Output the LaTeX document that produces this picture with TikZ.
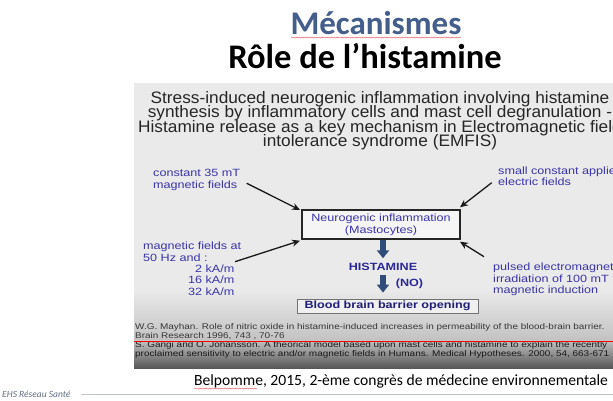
\documentclass[tikz,border=0pt]{standalone}
\usepackage{fontspec}
\setmainfont{Carlito}
\newfontfamily\hdfont[FakeStretch=1.04]{Liberation Sans}
\newfontfamily\dgfont[FakeStretch=1.2]{Liberation Sans}
\usetikzlibrary{arrows.meta,decorations.pathmorphing}
\definecolor{titleblue}{RGB}{68,94,140}
\definecolor{panelgray}{RGB}{234,234,234}
\definecolor{labelblue}{RGB}{58,52,168}
\definecolor{histblue}{RGB}{42,40,150}
\definecolor{bbbblue}{RGB}{32,30,118}
\definecolor{fatblue}{RGB}{48,76,120}
\definecolor{footgray}{RGB}{100,112,130}
\definecolor{footline}{RGB}{190,198,208}
\definecolor{squiggle}{RGB}{230,110,120}
\tikzset{
  dglabel/.style={inner sep=0pt, text=labelblue, align=left,
    font=\dgfont\fontsize{10.5}{11.6}\selectfont},
  hdline/.style={inner sep=0pt, anchor=base, text=black!85,
    font=\hdfont\fontsize{16.6}{14.5}\selectfont},
  thinarrow/.style={draw=black!90, line width=1.3pt,
    -{Stealth[length=8pt,width=7pt]}},
  fatarrow/.style={draw=fatblue, line width=6.5pt,
    -{Triangle[length=8pt,width=12pt]}},
  refline/.style={inner sep=0pt, anchor=base west,
    font=\dgfont\fontsize{8.3}{9}\selectfont},
  spell/.style={draw=squiggle, line width=0.5pt, decorate,
    decoration={snake, amplitude=0.6pt, segment length=2.5pt}}
}
\begin{document}
\begin{tikzpicture}[x=1pt,y=-1pt]
\useasboundingbox (0,0) rectangle (613,400);
\clip (0,0) rectangle (613,400);
\fill[white] (0,0) rectangle (613,400);

% titles
\node[inner sep=0pt, anchor=base, text=titleblue,
  font=\bfseries\fontsize{33}{36}\selectfont] (t1) at (376,34) {Mécanismes};
\draw[spell] (291,37.5) -- (461,37.5);
\node[inner sep=0pt, anchor=base, text=black,
  font=\bfseries\fontsize{34.5}{38}\selectfont] (t2) at (365,68) {Rôle de l’histamine};

% panel
\fill[panelgray] (134,83) rectangle (613,368);
\shade[top color=panelgray, bottom color=black!24] (134,290) rectangle (613,341);
\shade[top color=black!24, bottom color=black!66] (134,340.5) rectangle (613,368);

% header
\node[hdline] (h1) at (380,103) {Stress-induced neurogenic inflammation involving histamine};
\node[hdline] (h2) at (380,117.5) {synthesis by inflammatory cells and mast cell degranulation -};
\node[hdline] (h3) at (380,132) {Histamine release as a key mechanism in Electromagnetic field};
\node[hdline] (h4) at (380,146.5) {intolerance syndrome (EMFIS)};

% central boxes
\node[draw=black!85, line width=1.5pt, fill=black!4, minimum width=158pt,
  minimum height=29pt, inner sep=0pt, align=center, text=labelblue,
  font=\dgfont\fontsize{10.5}{12}\selectfont] (neuro) at (381,224.5)
  {Neurogenic inflammation\\(Mastocytes)};
\node[inner sep=0pt, anchor=base, text=histblue,
  font=\dgfont\bfseries\fontsize{10.5}{12}\selectfont] (hist) at (383,270.8) {HISTAMINE};
\node[inner sep=0pt, anchor=base, text=histblue,
  font=\dgfont\bfseries\fontsize{10.5}{12}\selectfont] (no) at (409.5,286.8) {(NO)};
\node[draw=black!55, line width=0.8pt, fill=black!6, minimum width=181pt,
  minimum height=14pt, inner sep=0pt, text=bbbblue,
  font=\dgfont\bfseries\fontsize{10.5}{12}\selectfont] (bbb) at (387.5,306)
  {Blood brain barrier opening};

\draw[fatarrow, shorten <=0.5pt, shorten >=5pt] (neuro.south -| hist.north) -- (hist.north);
\draw[fatarrow, shorten <=4pt, shorten >=6pt] (hist.south) -- (hist.south |- bbb.north);

% side labels
\node[dglabel, anchor=north west] (l1) at (153,169.2) {constant 35 mT\\magnetic fields};
\node[dglabel, anchor=north west] (l2) at (498,166.2) {small constant applied\\electric fields};
\node[dglabel, anchor=north west] (l3) at (143,241.9) {magnetic fields at\\50 Hz and :};
\node[dglabel, anchor=north east, align=right] (l4) at (234.5,264.4) {2 kA/m\\16 kA/m\\32 kA/m};
\node[dglabel, anchor=north west] (l5) at (493,262.9) {pulsed electromagnetic\\irradiation of 100 mT\\magnetic induction};

% thin arrows
\coordinate (a1s) at (246.7,183.3);
\coordinate (a1e) at (300,210);
\coordinate (a2s) at (491.7,182.7);
\coordinate (a2e) at (460,207.3);
\coordinate (a3s) at (235,261.7);
\coordinate (a3e) at (300,240.7);
\coordinate (a4s) at (484,256.7);
\coordinate (a4e) at (460,241.7);
\draw[thinarrow] (a1s) -- (a1e);
\draw[thinarrow] (a2s) -- (a2e);
\draw[thinarrow] (a3s) -- (a3e);
\draw[thinarrow] (a4s) -- (a4e);

% references
\node[refline, text=black!78] (r1) at (135,329.5) {W.G. Mayhan. Role of nitric oxide in histamine-induced increases in permeability of the blood-brain barrier.};
\node[refline, text=black!78] (r2) at (135,338) {Brain Research 1996, 743 , 70-76};
\node[refline, text=black!90] (r3) at (135,347) {S. Gangi and O. Johansson. A theorical model based upon mast cells and histamine to explain the recently};
\node[refline, text=black!90] (r4) at (135,356.5) {proclaimed sensitivity to electric and/or magnetic fields in Humans. Medical Hypotheses. 2000, 54, 663-671};
\draw[red, line width=1pt] (134,341.7) -- (613,341.7);

% source
\node[inner sep=0pt, anchor=base, text=black,
  font=\fontsize{15.6}{18}\selectfont] (src) at (401,385) {Belpomme, 2015, 2-ème congrès de médecine environnementale};
\draw[spell] (194,388.5) -- (257,388.5);

% footer
\node[inner sep=0pt, anchor=base west, text=footgray,
  font=\itshape\fontsize{9.5}{11}\selectfont] (foot) at (2,397) {EHS Réseau Santé};
\coordinate (fl) at (613,394.5);
\draw[footline, line width=1pt] ([xshift=10pt]foot.east |- fl) -- (fl);
\end{tikzpicture}
\end{document}
